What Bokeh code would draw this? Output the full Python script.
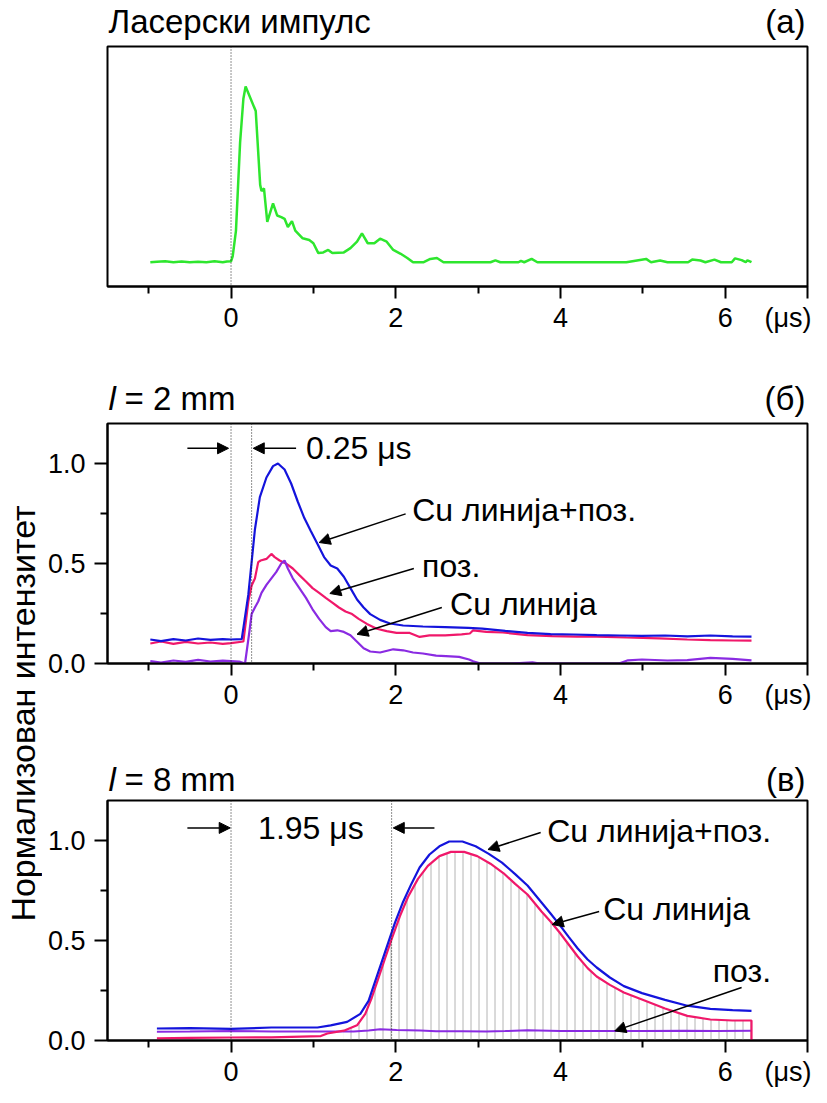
import math
from bokeh.plotting import figure
from bokeh.models import Range1d, FixedTicker, Label, Arrow, NormalHead, Span, PrintfTickFormatter
from bokeh.layouts import row, column
from bokeh.embed import file_html
from bokeh.resources import INLINE

# ---------------- data ----------------
# (a) laser pulse (arbitrary units, baseline 0, peak 1)
t_laser = [-0.98, -0.9, -0.8, -0.7, -0.6, -0.5, -0.4, -0.3, -0.2, -0.1,
           -0.05, 0.0, 0.02, 0.06, 0.11, 0.15, 0.177, 0.30, 0.354, 0.37,
           0.40, 0.44, 0.51, 0.56, 0.61, 0.65, 0.69, 0.74, 0.78, 0.87,
           0.95, 1.0, 1.06, 1.12, 1.18, 1.23, 1.37, 1.45, 1.53, 1.59,
           1.66, 1.74, 1.81, 1.89, 1.97, 2.06, 2.14, 2.21, 2.34, 2.42,
           2.5, 2.58, 3.15, 3.21, 3.27, 3.49, 3.52, 3.56, 3.65, 3.72,
           4.8, 5.04, 5.1, 5.21, 5.3, 5.55, 5.6, 5.7, 5.76, 5.87,
           5.95, 6.08, 6.12, 6.2, 6.25, 6.27, 6.32]
laser = [0, 0.003, 0.005, 0, 0.004, 0, 0.003, 0, 0.006, 0,
         0.004, 0.005, 0.033, 0.18, 0.68, 0.93, 1.0, 0.86, 0.44, 0.405,
         0.42, 0.23, 0.335, 0.266, 0.257, 0.247, 0.2, 0.234, 0.18, 0.136,
         0.126, 0.108, 0.052, 0.056, 0.07, 0.052, 0.056, 0.08, 0.117, 0.164,
         0.108, 0.108, 0.134, 0.117, 0.07, 0.048, 0.024, 0, 0, 0.019,
         0.024, 0, 0, 0.011, 0, 0, 0.008, 0, 0.019, 0,
         0, 0.019, 0, 0.01, 0, 0, 0.015, 0.01, 0, 0.015,
         0, 0, 0.022, 0.012, 0, 0.011, 0]

# (б) l = 2 mm
t_b_sum = [-0.98, -0.85, -0.7, -0.55, -0.4, -0.25, -0.1, 0.0,
           0.13, 0.21, 0.25, 0.29, 0.35, 0.43, 0.51, 0.57, 0.65, 0.73,
           0.81, 0.89, 0.97, 1.05, 1.13, 1.21, 1.29, 1.37, 1.45, 1.53,
           1.61, 1.69, 1.81, 1.93, 2.09, 2.33, 2.6, 2.88, 3.05, 3.33,
           3.6, 3.88, 4.16, 4.44, 4.72, 4.99, 5.27, 5.54, 5.82, 6.09, 6.32]
b_sum = [0.12, 0.112, 0.122, 0.115, 0.125, 0.118, 0.122, 0.12,
         0.122, 0.344, 0.507, 0.67, 0.832, 0.93, 0.987, 1.0, 0.97, 0.9,
         0.81, 0.727, 0.661, 0.597, 0.532, 0.49, 0.475, 0.434, 0.377, 0.32,
         0.28, 0.247, 0.218, 0.2, 0.19, 0.185, 0.182, 0.178, 0.174, 0.163,
         0.153, 0.147, 0.145, 0.142, 0.14, 0.138, 0.14, 0.136, 0.14, 0.136, 0.134]

t_b_bg = [-0.98, -0.85, -0.7, -0.55, -0.4, -0.25, -0.1, 0.0,
          0.15, 0.21, 0.25, 0.29, 0.33, 0.36, 0.43, 0.49, 0.53, 0.59,
          0.67, 0.75, 0.83, 0.91, 0.99, 1.07, 1.15, 1.23, 1.31, 1.39,
          1.47, 1.55, 1.65, 1.77, 1.89, 2.01, 2.17, 2.29, 2.41, 2.6,
          2.8, 2.9, 2.94, 3.1, 3.3, 3.6, 3.9, 4.2, 4.44, 4.8,
          5.2, 5.54, 5.82, 6.1, 6.32]
b_bg = [0.1, 0.11, 0.098, 0.108, 0.1, 0.105, 0.098, 0.102,
        0.11, 0.31, 0.39, 0.425, 0.507, 0.515, 0.523, 0.548, 0.532, 0.515,
        0.499, 0.475, 0.442, 0.41, 0.377, 0.353, 0.328, 0.304, 0.28, 0.26,
        0.247, 0.223, 0.198, 0.174, 0.162, 0.153, 0.153, 0.133, 0.141, 0.141,
        0.146, 0.15, 0.166, 0.158, 0.155, 0.142, 0.137, 0.134, 0.134, 0.13,
        0.126, 0.12, 0.117, 0.115, 0.114]

t_b_cu = [-0.98, -0.85, -0.7, -0.55, -0.4, -0.25, -0.1, 0.0,
          0.1, 0.17, 0.22, 0.25, 0.29, 0.33, 0.37, 0.43, 0.49, 0.55,
          0.61, 0.65, 0.69, 0.75, 0.83, 0.91, 0.99, 1.07, 1.15, 1.21,
          1.29, 1.37, 1.45, 1.53, 1.61, 1.69, 1.81, 1.97, 2.09, 2.21,
          2.33, 2.49, 2.61, 2.77, 2.89, 2.94, 3.03, 3.4, 3.66, 3.75,
          4.2, 4.71, 4.82, 4.99, 5.3, 5.54, 5.82, 6.09, 6.32]
b_cu = [0.012, 0.005, 0.015, 0.008, 0.018, 0.01, 0.014, 0.012,
        0.01, 0.0, 0.15, 0.247, 0.28, 0.31, 0.353, 0.393, 0.426, 0.458,
        0.5, 0.515, 0.475, 0.426, 0.377, 0.328, 0.271, 0.223, 0.182, 0.162,
        0.166, 0.158, 0.141, 0.109, 0.076, 0.06, 0.055, 0.071, 0.066, 0.055,
        0.05, 0.039, 0.037, 0.033, 0.02, 0.011, 0.0, 0.0, 0.006, 0.0,
        0.0, 0.0, 0.016, 0.02, 0.015, 0.017, 0.028, 0.023, 0.016]

# (в) l = 8 mm
t_c_sum = [-0.9, -0.5, 0.0, 0.49, 1.05, 1.21, 1.41, 1.57, 1.67, 1.75,
           1.83, 1.91, 1.99, 2.09, 2.19, 2.29, 2.41, 2.53, 2.65, 2.81,
           2.97, 3.13, 3.29, 3.45, 3.6, 3.77, 3.88, 3.99, 4.1, 4.21,
           4.33, 4.44, 4.6, 4.77, 4.99, 5.27, 5.54, 5.82, 6.09, 6.32]
c_sum = [0.06, 0.062, 0.058, 0.065, 0.065, 0.076, 0.093, 0.133, 0.198, 0.296,
         0.393, 0.491, 0.588, 0.694, 0.783, 0.865, 0.93, 0.971, 0.995, 0.995,
         0.971, 0.933, 0.889, 0.832, 0.775, 0.69, 0.635, 0.578, 0.518, 0.46,
         0.405, 0.365, 0.315, 0.272, 0.237, 0.203, 0.174, 0.158, 0.152, 0.148]

t_c_cu = [-0.9, -0.5, 0.0, 0.49, 1.09, 1.17, 1.37, 1.53, 1.63, 1.71,
          1.79, 1.87, 1.95, 2.05, 2.15, 2.27, 2.39, 2.53, 2.67, 2.83,
          2.99, 3.15, 3.31, 3.45, 3.6, 3.77, 3.88, 3.99, 4.1, 4.21,
          4.33, 4.44, 4.6, 4.77, 4.99, 5.27, 5.54, 5.82, 6.09, 6.32, 6.32]
c_cu = [0.011, 0.013, 0.015, 0.016, 0.022, 0.035, 0.049, 0.076, 0.133, 0.215,
        0.312, 0.41, 0.507, 0.621, 0.719, 0.808, 0.873, 0.922, 0.943, 0.943,
        0.922, 0.884, 0.836, 0.783, 0.73, 0.645, 0.595, 0.54, 0.48, 0.42,
        0.362, 0.32, 0.278, 0.24, 0.205, 0.16, 0.123, 0.105, 0.1, 0.1, 0.0]

t_c_bg = [-0.9, -0.5, 0.0, 0.5, 1.09, 1.49, 1.67, 1.81, 2.01, 2.3,
          2.49, 2.8, 3.1, 3.33, 3.6, 4.0, 4.44, 5.0, 5.5, 5.9, 6.32]
c_bg = [0.044, 0.045, 0.047, 0.045, 0.045, 0.045, 0.05, 0.056, 0.053, 0.05,
        0.046, 0.046, 0.045, 0.047, 0.051, 0.047, 0.047, 0.048, 0.049, 0.048, 0.049]

x_major = [0, 2, 4, 6, 7]
x_minor = [-1, 1, 3, 5]
y_major = [0, 0.5, 1.0]
y_minor = [0.25, 0.75]
x_unit = "(μs)"

# ---------------- style ----------------
FONT = "Liberation Sans"
BLUE = "#1414dc"
RED = "#f0186a"
PURPLE = "#8a2be2"
GREEN = "#2ee62e"
TICK_FS = "27px"
ANN_FS = "32px"
TITLE_FS = "33px"

STRIP_W = 42
FIG_W = 769
LEFT = 65
RIGHT = 4
FW = FIG_W - LEFT - RIGHT   # 700
FH = 240
TOTAL_H = 1087
X0, X1 = -1.5, 7.0
PX = FW / (X1 - X0)         # pixels per x unit


def make_fig(yr, top, bottom, show_y):
    p = figure(frame_width=FW, frame_height=FH,
               min_border_left=LEFT, min_border_right=RIGHT,
               min_border_top=top, min_border_bottom=bottom,
               x_range=Range1d(X0, X1), y_range=Range1d(*yr),
               output_backend="svg", toolbar_location=None,
               background_fill_color="white", border_fill_color="white")
    p.grid.visible = False
    p.outline_line_color = "black"
    p.outline_line_width = 2
    xa = p.xaxis[0]
    xa.ticker = FixedTicker(ticks=x_major, minor_ticks=x_minor)
    xa.axis_line_width = 2
    xa.major_tick_line_width = 2
    xa.minor_tick_line_width = 2
    xa.major_tick_in = 0
    xa.major_tick_out = 12
    xa.minor_tick_in = 0
    xa.minor_tick_out = 7
    xa.major_label_standoff = 4
    xa.major_label_text_font = FONT
    xa.major_label_text_font_size = TICK_FS
    xa.major_label_text_color = "black"
    # unit label on the frame-edge tick (kept inside the canvas by the axis)
    xa.major_label_overrides = {7: x_unit}
    ya = p.yaxis[0]
    if show_y:
        ya.ticker = FixedTicker(ticks=y_major, minor_ticks=y_minor)
        ya.formatter = PrintfTickFormatter(format="%.1f")
        ya.axis_line_width = 2
        ya.major_tick_line_width = 2
        ya.minor_tick_line_width = 2
        ya.major_tick_in = 0
        ya.major_tick_out = 13
        ya.minor_tick_in = 0
        ya.minor_tick_out = 7
        ya.major_label_standoff = 9
        ya.major_label_text_font = FONT
        ya.major_label_text_font_size = TICK_FS
        ya.major_label_text_color = "black"
    else:
        ya.visible = False
    return p


def add_label(p, x, y, text, size=ANN_FS, align="left", baseline="middle", style="normal", angle=0):
    p.add_layout(Label(x=x, y=y, text=text, text_font=FONT, text_font_size=size,
                       text_align=align, text_baseline=baseline, text_font_style=style,
                       text_color="black", angle=angle))


def add_arrow(p, x0, y0, x1, y1):
    p.add_layout(Arrow(end=NormalHead(size=11, fill_color="black", line_color="black", line_width=1),
                       x_start=x0, y_start=y0, x_end=x1, y_end=y1,
                       line_color="black", line_width=1.5))


def vdot(p, x):
    p.add_layout(Span(location=x, dimension="height", line_color="#222222",
                      line_width=1, line_dash="1 2"))


def header(h, center_from_top, parts, tag):
    f = figure(frame_width=FW, frame_height=h,
               min_border_left=LEFT, min_border_right=RIGHT,
               min_border_top=0, min_border_bottom=0,
               x_range=Range1d(X0, X1), y_range=Range1d(0, h),
               x_axis_type=None, y_axis_type=None, output_backend="svg",
               toolbar_location=None, background_fill_color="white",
               border_fill_color="white")
    f.outline_line_color = None
    f.grid.visible = False
    yc = h - center_from_top
    for text, style, dx in parts:
        add_label(f, X0 + (dx + 1) / PX, yc, text, size=TITLE_FS, style=style)
    add_label(f, X1 - 2 / PX, yc, tag, size=TITLE_FS, align="right")
    return f


# ---------------- panel (a) ----------------
ha = header(44, 21, [("Ласерски импулс", "normal", 0)], "(а)")
ya_lo, ya_hi = -0.138, 1.227
pa = make_fig((ya_lo, ya_hi), 2, 59, False)
vdot(pa, 0)
pa.line(t_laser, laser, line_color=GREEN, line_width=2.5)

# ---------------- panel (б) ----------------
hb = header(76, 53, [("l", "italic", 0), ("= 2 mm", "normal", 16)], "(б)")
pb = make_fig((0, 1.2), 2, 60, True)
vdot(pb, 0)
vdot(pb, 0.25)
pb.line(t_b_bg, b_bg, line_color=RED, line_width=2.2)
pb.line(t_b_sum, b_sum, line_color=BLUE, line_width=2.2)
pb.line(t_b_cu, b_cu, line_color=PURPLE, line_width=2.2)
add_arrow(pb, -0.53, 1.076, -0.03, 1.076)
add_arrow(pb, 0.79, 1.076, 0.27, 1.076)
add_label(pb, 0.91, 1.076, "0.25 μs")
add_label(pb, 2.2, 0.767, "Cu линија+поз.")
add_arrow(pb, 2.12, 0.748, 1.07, 0.605)
add_label(pb, 2.32, 0.49, "поз.")
add_arrow(pb, 2.22, 0.475, 1.2, 0.35)
add_label(pb, 2.66, 0.296, "Cu линија")
add_arrow(pb, 2.56, 0.28, 1.53, 0.146)

# ---------------- panel (в) ----------------
hc = header(75, 56, [("l", "italic", 0), ("= 8 mm", "normal", 16)], "(в)")
pc = make_fig((0, 1.2), 2, 47, True)
hx = [t for t in t_c_cu[:-1] if t >= 1.3]
hy = [v for t, v in zip(t_c_cu[:-1], c_cu[:-1]) if t >= 1.3]
pc.varea(x=hx, y1=[0] * len(hx), y2=hy, fill_alpha=0, hatch_pattern="vertical_line",
         hatch_color="#b4b4b4", hatch_scale=8, hatch_weight=1)
vdot(pc, 0)
vdot(pc, 1.95)
pc.line(t_c_bg, c_bg, line_color=PURPLE, line_width=2)
pc.line(t_c_cu, c_cu, line_color=RED, line_width=2.2)
pc.line(t_c_sum, c_sum, line_color=BLUE, line_width=2.2)
add_arrow(pc, -0.53, 1.063, -0.01, 1.063)
add_arrow(pc, 2.47, 1.063, 1.97, 1.063)
add_label(pc, 0.97, 1.063, "1.95 μs", align="center")
add_label(pc, 3.84, 1.049, "Cu линија+поз.")
add_arrow(pc, 3.76, 1.04, 3.12, 0.955)
add_label(pc, 4.52, 0.657, "Cu линија")
add_arrow(pc, 4.47, 0.645, 3.9, 0.58)
add_label(pc, 5.85, 0.346, "поз.")
add_arrow(pc, 6.2, 0.265, 4.66, 0.048)

# ---------------- y label strip ----------------
py = figure(width=STRIP_W, height=TOTAL_H, x_range=Range1d(0, STRIP_W), y_range=Range1d(0, TOTAL_H),
            min_border=0, min_border_left=0, min_border_right=0,
            min_border_top=0, min_border_bottom=0,
            x_axis_type=None, y_axis_type=None, output_backend="svg",
            toolbar_location=None, background_fill_color="white",
            border_fill_color="white")
py.outline_line_color = None
py.grid.visible = False
add_label(py, 22, TOTAL_H - 713, "Нормализован интензитет", size="34px",
          align="center", angle=math.pi / 2)

layout = row(py, column(ha, pa, hb, pb, hc, pc, spacing=0), spacing=0)
open("out.html", "w").write(file_html(layout, INLINE))
